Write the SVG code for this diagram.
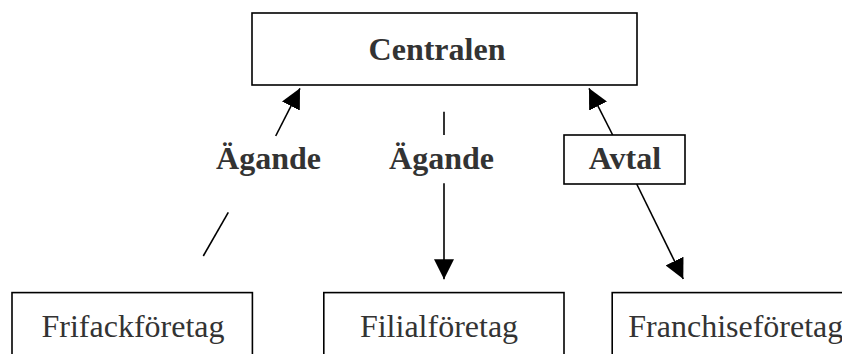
<svg xmlns="http://www.w3.org/2000/svg" width="842" height="354" viewBox="0 0 842 354">
<style>
.box{fill:#fff;stroke:#000;stroke-width:1.6}
.bt{font-family:"Liberation Serif","Times New Roman",serif;font-weight:bold;font-size:32px;fill:#333}
.rt{font-family:"Liberation Serif","Times New Roman",serif;font-size:32px;fill:#333}
.ln{stroke:#000;stroke-width:1.6;fill:none}
</style>
<defs>
<marker id="ah" viewBox="0 0 20 20" refX="20" refY="10" markerWidth="20" markerHeight="20" markerUnits="userSpaceOnUse" orient="auto">
<path d="M0,0 L20,10 L0,20 z" fill="#000"/>
</marker>
</defs>
<rect width="842" height="354" fill="#fff"/>
<g id="connectors">
<line class="ln" x1="275.7" y1="136" x2="300" y2="88.3" marker-end="url(#ah)"/>
<line class="ln" x1="228.3" y1="212.3" x2="203.3" y2="256"/>
<line class="ln" x1="444" y1="111.7" x2="444" y2="135"/>
<line class="ln" x1="444" y1="183.3" x2="444" y2="279.3" marker-end="url(#ah)"/>
<line class="ln" x1="612.7" y1="135" x2="589" y2="88.3" marker-end="url(#ah)"/>
<line class="ln" x1="636.7" y1="184" x2="683.3" y2="279" marker-end="url(#ah)"/>
</g>
<g id="centralen">
<rect class="box" x="252" y="13" width="385" height="72"/>
<text class="bt" x="437" y="60" text-anchor="middle">Centralen</text>
</g>
<g id="agande1">
<text class="bt" x="268.5" y="169" text-anchor="middle">Ägande</text>
</g>
<g id="agande2">
<text class="bt" x="441.5" y="169" text-anchor="middle">Ägande</text>
</g>
<g id="avtal">
<rect class="box" x="564" y="135" width="121" height="49"/>
<text class="bt" x="625" y="169" text-anchor="middle">Avtal</text>
</g>
<g id="frifack">
<rect class="box" x="12" y="292.6" width="240.4" height="80"/>
<text class="rt" x="133" y="337" text-anchor="middle">Frifackföretag</text>
</g>
<g id="filial">
<rect class="box" x="323.8" y="292.6" width="240.2" height="80"/>
<text class="rt" x="439" y="337" text-anchor="middle">Filialföretag</text>
</g>
<g id="franchise">
<rect class="box" x="612.2" y="292.6" width="260" height="80"/>
<text class="rt" x="628.3" y="337">Franchiseföretag</text>
</g>
</svg>
